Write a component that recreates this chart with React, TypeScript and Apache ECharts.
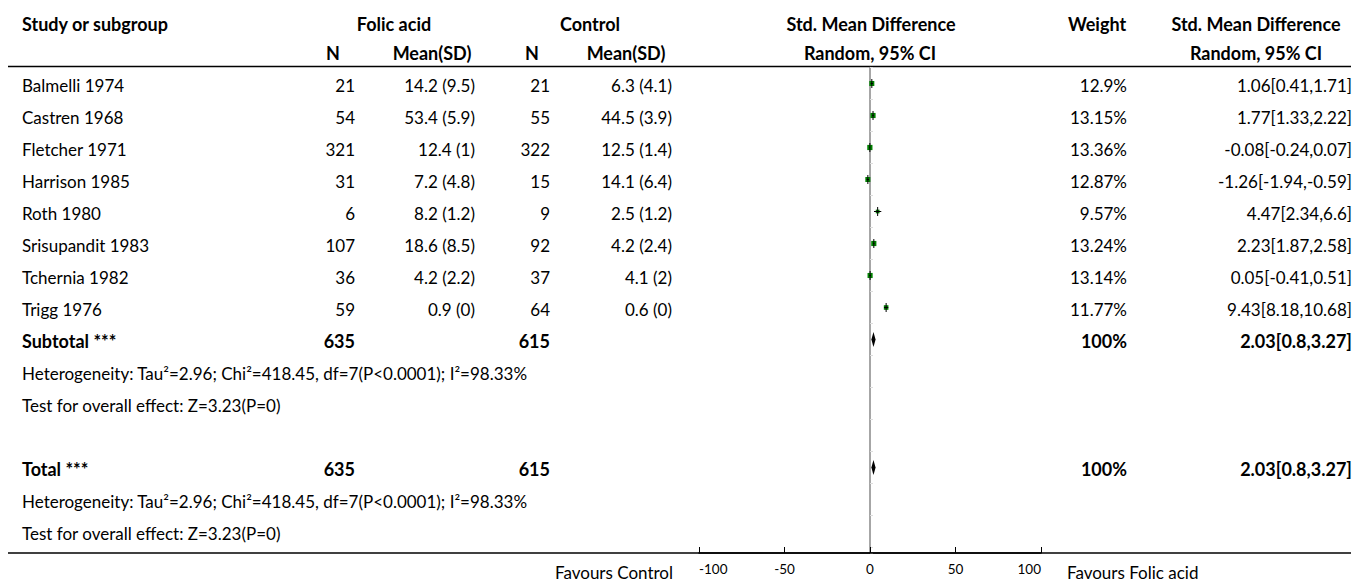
import React, { useEffect, useRef } from "react";
import * as echarts from "echarts";

// ---------- data ----------
const studies = [
  "Balmelli 1974",
  "Castren 1968",
  "Fletcher 1971",
  "Harrison 1985",
  "Roth 1980",
  "Srisupandit 1983",
  "Tchernia 1982",
  "Trigg 1976",
];
const folicN = [21, 54, 321, 31, 6, 107, 36, 59];
const folicMeanSD = ["14.2 (9.5)", "53.4 (5.9)", "12.4 (1)", "7.2 (4.8)", "8.2 (1.2)", "18.6 (8.5)", "4.2 (2.2)", "0.9 (0)"];
const controlN = [21, 55, 322, 15, 9, 92, 37, 64];
const controlMeanSD = ["6.3 (4.1)", "44.5 (3.9)", "12.5 (1.4)", "14.1 (6.4)", "2.5 (1.2)", "4.2 (2.4)", "4.1 (2)", "0.6 (0)"];
const weights = [12.9, 13.15, 13.36, 12.87, 9.57, 13.24, 13.14, 11.77];
const smd = [1.06, 1.77, -0.08, -1.26, 4.47, 2.23, 0.05, 9.43];
const ciLow = [0.41, 1.33, -0.24, -1.94, 2.34, 1.87, -0.41, 8.18];
const ciHigh = [1.71, 2.22, 0.07, -0.59, 6.6, 2.58, 0.51, 10.68];

const pooledLabels = ["Subtotal ***", "Total ***"];
const pooledFolicN = [635, 635];
const pooledControlN = [615, 615];
const pooledWeight = ["100%", "100%"];
const pooledSmd = [2.03, 2.03];
const pooledLow = [0.8, 0.8];
const pooledHigh = [3.27, 3.27];
const heterogeneityText = "Heterogeneity: Tau²=2.96; Chi²=418.45, df=7(P<0.0001); I²=98.33%";
const overallEffectText = "Test for overall effect: Z=3.23(P=0)";

const xTicks = [-100, -50, 0, 50, 100];
const leftLabel = "Favours Control";
const rightLabel = "Favours Folic acid";

// ---------- layout ----------
const W = 1359;
const H = 581;
const FONT = "Lato, 'Source Sans Pro', sans-serif";
const FS = 17;
const FSB = 18;
const TOP = 67.5;
const ROW = 32;
const TEXT_DY = 1.5;
const AXIS_Y = 553;
const PLOT_L = 699;
const PLOT_R = 1041;

// row indices
const pooledRows = [8, 12];
const hetRows = [9, 13];
const testRows = [10, 14];

const rowY = (r: number) => TOP + ROW * (r + 0.5) + TEXT_DY;

function txt(text: string, x: number, y: number, align: string, bold = false, size?: number) {
  const fs = size ?? (bold ? FSB : FS);
  return {
    type: "text",
    x,
    y,
    silent: true,
    style: {
      text,
      x: 0,
      y: 0,
      align,
      verticalAlign: "middle",
      fill: "#000",
      font: `${bold ? "bold " : ""}${fs}px ${FONT}`,
    },
  };
}

const COL = {
  study: 22,
  fN: 355,
  fM: 475,
  cN: 550,
  cM: 672,
  wt: 1127,
  ci: 1352,
};

export default function App() {
  const ref = useRef<HTMLDivElement>(null);

  useEffect(() => {
    if (!ref.current) return;
    const chart = echarts.init(ref.current, null, { renderer: "svg" });

    const graphics: any[] = [];
    const H1 = 23.5;
    const H2 = 52.5;
    // headers
    graphics.push(txt("Study or subgroup", COL.study, H1, "left", true));
    graphics.push(txt("Folic acid", 394, H1, "center", true));
    graphics.push(txt("Control", 590, H1, "center", true));
    graphics.push(txt("Std. Mean Difference", 871, H1, "center", true));
    graphics.push(txt("Weight", 1097, H1, "center", true));
    graphics.push(txt("Std. Mean Difference", 1256, H1, "center", true));
    graphics.push(txt("N", 333, H2, "center", true));
    graphics.push(txt("Mean(SD)", 432, H2, "center", true));
    graphics.push(txt("N", 532, H2, "center", true));
    graphics.push(txt("Mean(SD)", 626, H2, "center", true));
    graphics.push(txt("Random, 95% CI", 870, H2, "center", true));
    graphics.push(txt("Random, 95% CI", 1256, H2, "center", true));

    // study rows
    studies.forEach((s, i) => {
      const y = rowY(i);
      graphics.push(txt(s, COL.study, y, "left"));
      graphics.push(txt(String(folicN[i]), COL.fN, y, "right"));
      graphics.push(txt(folicMeanSD[i], COL.fM, y, "right"));
      graphics.push(txt(String(controlN[i]), COL.cN, y, "right"));
      graphics.push(txt(controlMeanSD[i], COL.cM, y, "right"));
      graphics.push(txt(`${weights[i]}%`, COL.wt, y, "right"));
      graphics.push(txt(`${smd[i]}[${ciLow[i]},${ciHigh[i]}]`, COL.ci, y, "right"));
    });

    pooledLabels.forEach((lab, k) => {
      const y = rowY(pooledRows[k]);
      graphics.push(txt(lab, COL.study, y, "left", true));
      graphics.push(txt(String(pooledFolicN[k]), COL.fN, y, "right", true));
      graphics.push(txt(String(pooledControlN[k]), COL.cN, y, "right", true));
      graphics.push(txt(pooledWeight[k], COL.wt, y, "right", true));
      graphics.push(txt(`${pooledSmd[k]}[${pooledLow[k]},${pooledHigh[k]}]`, COL.ci, y, "right", true));
      graphics.push(txt(heterogeneityText, COL.study, rowY(hetRows[k]), "left"));
      graphics.push(txt(overallEffectText, COL.study, rowY(testRows[k]), "left"));
    });

    // horizontal rules
    graphics.push({
      type: "line",
      silent: true,
      shape: { x1: 8, y1: 66.5, x2: W - 8, y2: 66.5 },
      style: { stroke: "#000", lineWidth: 1.5 },
    });
    graphics.push({
      type: "line",
      silent: true,
      shape: { x1: 8, y1: AXIS_Y, x2: W - 8, y2: AXIS_Y },
      style: { stroke: "#000", lineWidth: 1.5 },
      z: 10,
    });

    graphics.push(txt(leftLabel, 673, 572, "right"));
    graphics.push(txt(rightLabel, 1067, 572, "left"));

    const studyData = studies.map((_, i) => [smd[i], ciLow[i], ciHigh[i], weights[i], i + 0.5]);
    const pooledData = pooledRows.map((r, k) => [pooledSmd[k], pooledLow[k], pooledHigh[k], r + 0.5]);

    const option: any = {
      animation: false,
      grid: {
        left: PLOT_L,
        right: W - PLOT_R,
        top: TOP,
        bottom: H - AXIS_Y,
        containLabel: false,
      },
      xAxis: {
        type: "value",
        min: -100,
        max: 100,
        interval: 50,
        axisLine: { show: true, onZero: false, lineStyle: { color: "#000", width: 1.5 } },
        axisTick: { show: true, inside: true, length: 6, lineStyle: { color: "#000", width: 1 } },
        axisLabel: {
          color: "#000",
          fontSize: 13.5,
          fontFamily: FONT,
          margin: 9,
          customValues: xTicks,
          alignMinLabel: "left",
          alignMaxLabel: "right",
        },
        splitLine: { show: false },
      },
      yAxis: {
        type: "value",
        inverse: true,
        min: 0,
        max: (AXIS_Y - TOP) / ROW,
        interval: 1,
        axisLine: { show: true, onZero: true, lineStyle: { color: "#888", width: 1.5 } },
        axisTick: { show: true, inside: true, length: 3, lineStyle: { color: "#ddd", width: 1 } },
        axisLabel: { show: false },
        splitLine: { show: false },
      },
      graphic: graphics,
      series: [
        {
          type: "custom",
          clip: false,
          data: studyData,
          encode: { x: [0, 1, 2], y: 4 },
          renderItem: (params: any, api: any) => {
            const y = api.value(4);
            const c = api.coord([api.value(0), y]);
            const l = api.coord([api.value(1), y]);
            const h = api.coord([api.value(2), y]);
            const s = api.value(3) * 0.39;
            return {
              type: "group",
              children: [
                {
                  type: "rect",
                  shape: { x: c[0] - s / 2, y: c[1] - s / 2, width: s, height: s },
                  style: { fill: "#008000" },
                },
                {
                  type: "line",
                  shape: { x1: l[0], y1: c[1], x2: h[0], y2: c[1] },
                  style: { stroke: "#000", lineWidth: 1 },
                },
                {
                  type: "line",
                  shape: { x1: c[0], y1: c[1] - 4.5, x2: c[0], y2: c[1] + 4.5 },
                  style: { stroke: "#000", lineWidth: 1 },
                },
              ],
            };
          },
        },
        {
          type: "custom",
          clip: false,
          data: pooledData,
          encode: { x: [0, 1, 2], y: 3 },
          renderItem: (params: any, api: any) => {
            const y = api.value(3);
            const c = api.coord([api.value(0), y]);
            const l = api.coord([api.value(1), y]);
            const h = api.coord([api.value(2), y]);
            return {
              type: "polygon",
              shape: {
                points: [
                  [l[0], c[1]],
                  [c[0], c[1] - 7.5],
                  [h[0], c[1]],
                  [c[0], c[1] + 7.5],
                ],
              },
              style: { fill: "#000" },
            };
          },
        },
      ],
    };

    chart.setOption(option);
    return () => chart.dispose();
  }, []);

  return (
    <div
      ref={ref}
      style={{ position: "absolute", left: 0, top: 0, width: W, height: H, background: "#fff" }}
    />
  );
}
